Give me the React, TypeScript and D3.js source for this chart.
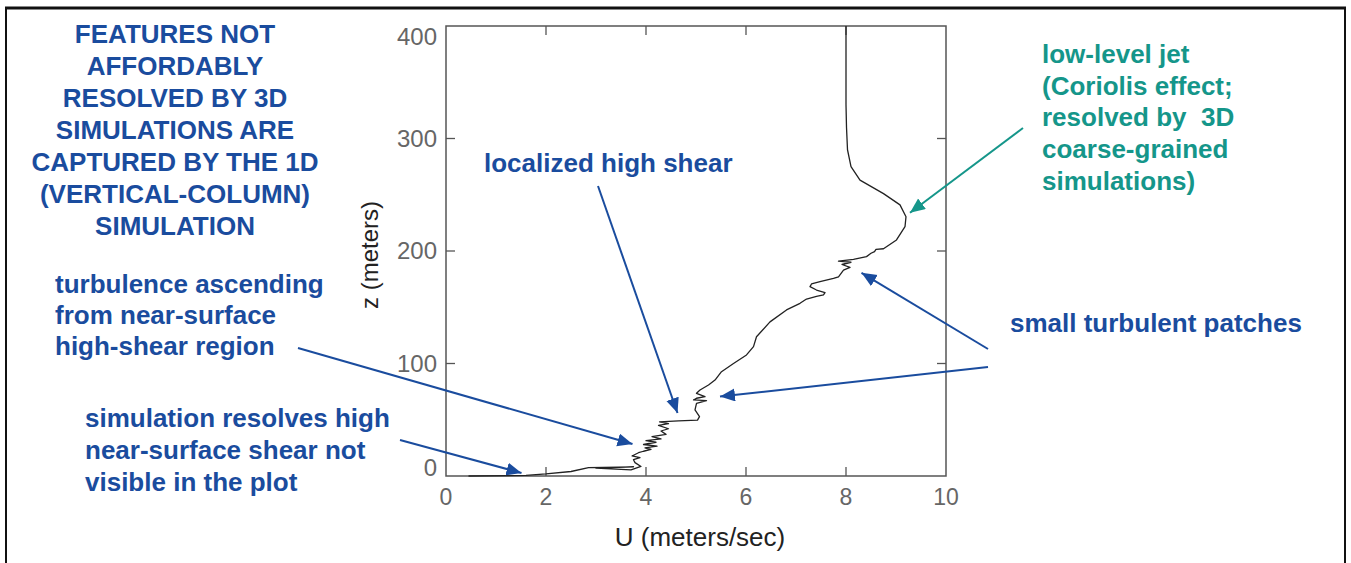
import React from 'react';
import * as d3 from 'd3';

// wind profile, in path order (z in meters, U in m/s)
const zLevels = [
  0, 0.5, 1.8, 4.0, 7.5, 8.2, 7.0, 5.5, 8.5,
  11.9, 14.5, 16.3, 17.8, 20.7, 22.0, 23.7, 25.0, 26.5, 28.0, 30.0, 31.5, 33.0, 35.0,
  37.0, 40.0, 42.0, 45.0, 46.5, 48.2, 49.0, 49.7, 52.8, 58.7, 64.6, 67.0, 67.6, 69.1,
  70.5, 73.5, 76.4, 80.9, 85.3, 92.7, 100, 107.6, 115, 123.8, 137, 147.6, 153.5, 157.3,
  159.6, 161, 163, 165.3, 168.3, 170.7, 172.7, 175.6, 177, 183, 185.5, 188, 190, 191,
  192.6, 195, 198, 199.5, 201.5, 202, 209.8, 221.6, 230.5, 241, 251, 263, 275, 290,
  310, 330, 400,
];
const uValues = [
  0.45, 1.60, 2.00, 2.50, 2.85, 3.75, 3.00, 3.70, 3.90,
  3.78, 3.75, 3.88, 3.72, 3.85, 3.95, 4.10, 3.98, 4.22, 3.95, 4.20, 4.00, 4.30, 4.12,
  4.40, 4.30, 4.45, 4.25, 4.45, 4.27, 4.65, 5.03, 5.07, 4.98, 5.01, 5.21, 4.95, 5.01,
  5.18, 5.01, 5.08, 5.25, 5.38, 5.51, 5.75, 6.01, 6.15, 6.21, 6.48, 6.81, 7.08, 7.21,
  7.41, 7.55, 7.58, 7.41, 7.28, 7.31, 7.48, 7.75, 7.85, 7.95, 8.08, 7.92, 8.10, 7.85,
  8.15, 8.41, 8.50, 8.57, 8.60, 8.75, 9.01, 9.18, 9.20, 9.08, 8.75, 8.28, 8.10, 8.03,
  8.01, 8.00, 8.00,
];

const uTicks = [0, 2, 4, 6, 8, 10];
const zTicks = [0, 100, 200, 300, 400];

const titleLines = [
  'FEATURES NOT',
  'AFFORDABLY',
  'RESOLVED BY 3D',
  'SIMULATIONS ARE',
  'CAPTURED BY THE 1D',
  '(VERTICAL-COLUMN)',
  'SIMULATION',
];
const jetLines = ['low-level jet', '(Coriolis effect;', 'resolved by  3D', 'coarse-grained', 'simulations)'];
const ascendLines = ['turbulence ascending', 'from near-surface', 'high-shear region'];
const surfaceLines = ['simulation resolves high', 'near-surface shear not', 'visible in the plot'];

// arrow tips point at features of the profile (data units)
const jetTip = [9.28, 234];
const shearTip = [4.63, 56];
const patchTipHigh = [8.31, 180.6];
const patchTipLow = [5.48, 70.6];
const ascendTip = [3.73, 28.4];
const surfaceTip = [1.51, 2.7];

const BLUE = '#1a4c9e';
const TEAL = '#15968a';
const FONT = '"Liberation Sans", Arial, sans-serif';

export default function App() {
  const x = d3.scaleLinear().domain([0, 10]).range([446, 946]);
  const y = d3.scaleLinear().domain([0, 400]).range([476, 26]);

  const profile = d3
    .line<number>()
    .x((_, i) => x(uValues[i]))
    .y((d) => y(d))(zLevels);

  const arrows = [
    { from: [1023, 128], tip: jetTip, color: 'teal' },
    { from: [598, 186], tip: shearTip, color: 'blue' },
    { from: [988, 349], tip: patchTipHigh, color: 'blue' },
    { from: [988, 367], tip: patchTipLow, color: 'blue' },
    { from: [298, 348], tip: ascendTip, color: 'blue' },
    { from: [400, 440], tip: surfaceTip, color: 'blue' },
  ];

  const block = (lines: string[], xPos: number, y0: number, anchor: string, fill: string, gap = 32) => (
    <text x={xPos} y={y0} textAnchor={anchor} fill={fill} fontFamily={FONT} fontWeight="bold" fontSize={26}>
      {lines.map((l, i) => (
        <tspan key={i} x={xPos} y={y0 + i * gap} style={{ whiteSpace: 'pre' }}>
          {l}
        </tspan>
      ))}
    </text>
  );

  return (
    <svg width={1351} height={563} style={{ position: 'absolute', left: 0, top: 0, background: '#fff' }}>
      <defs>
        <marker id="ah-blue" markerUnits="userSpaceOnUse" markerWidth={16} markerHeight={14} refX={15} refY={6.5} orient="auto">
          <path d="M0,0 L15,6.5 L0,13 z" fill={BLUE} />
        </marker>
        <marker id="ah-teal" markerUnits="userSpaceOnUse" markerWidth={16} markerHeight={14} refX={15} refY={6.5} orient="auto">
          <path d="M0,0 L15,6.5 L0,13 z" fill={TEAL} />
        </marker>
      </defs>

      {/* slide frame */}
      <rect x={6} y={8} width={1339} height={600} fill="none" stroke="#111" strokeWidth={2} />
      <line x1={5} x2={1346} y1={8} y2={8} stroke="#111" strokeWidth={3} />

      {/* plot box */}
      <rect x={446} y={26} width={500} height={450} fill="none" stroke="#555" strokeWidth={1.5} />
      {uTicks.slice(1, -1).map((t) => (
        <g key={'u' + t}>
          <line x1={x(t)} x2={x(t)} y1={476} y2={467} stroke="#555" strokeWidth={1.3} />
          <line x1={x(t)} x2={x(t)} y1={26} y2={35} stroke="#555" strokeWidth={1.3} />
        </g>
      ))}
      {zTicks.slice(1, -1).map((t) => (
        <g key={'z' + t}>
          <line x1={446} x2={455} y1={y(t)} y2={y(t)} stroke="#555" strokeWidth={1.3} />
          <line x1={946} x2={937} y1={y(t)} y2={y(t)} stroke="#555" strokeWidth={1.3} />
        </g>
      ))}
      {uTicks.map((t) => (
        <text key={'ul' + t} x={x(t)} y={505} textAnchor="middle" fontFamily={FONT} fontSize={23} fill="#666">
          {t}
        </text>
      ))}
      {zTicks.map((t, i) => (
        <text
          key={'zl' + t}
          x={437}
          y={y(t) + 8 + (i === zTicks.length - 1 ? 11 : i === 0 ? -8 : 0)}
          textAnchor="end"
          fontFamily={FONT}
          fontSize={24}
          fill="#666"
        >
          {t}
        </text>
      ))}
      <text x={700} y={546} textAnchor="middle" fontFamily={FONT} fontSize={26} fill="#222">
        U (meters/sec)
      </text>
      <text transform="translate(378,255) rotate(-90)" textAnchor="middle" fontFamily={FONT} fontSize={24} fill="#222">
        z (meters)
      </text>

      <path d={profile ?? ''} fill="none" stroke="#222" strokeWidth={1.3} strokeLinejoin="round" />

      {/* annotations */}
      {arrows.map((a, i) => (
        <line
          key={i}
          x1={a.from[0]}
          y1={a.from[1]}
          x2={x(a.tip[0])}
          y2={y(a.tip[1])}
          stroke={a.color === 'teal' ? TEAL : BLUE}
          strokeWidth={2}
          markerEnd={`url(#ah-${a.color})`}
        />
      ))}

      {block(titleLines, 175, 43, 'middle', BLUE)}
      {block(ascendLines, 55, 293, 'start', BLUE, 31)}
      {block(surfaceLines, 85, 427, 'start', BLUE)}
      {block(['localized high shear'], 484, 172, 'start', BLUE)}
      {block(jetLines, 1042, 63, 'start', TEAL, 31.7)}
      {block(['small turbulent patches'], 1010, 332, 'start', BLUE)}
    </svg>
  );
}
